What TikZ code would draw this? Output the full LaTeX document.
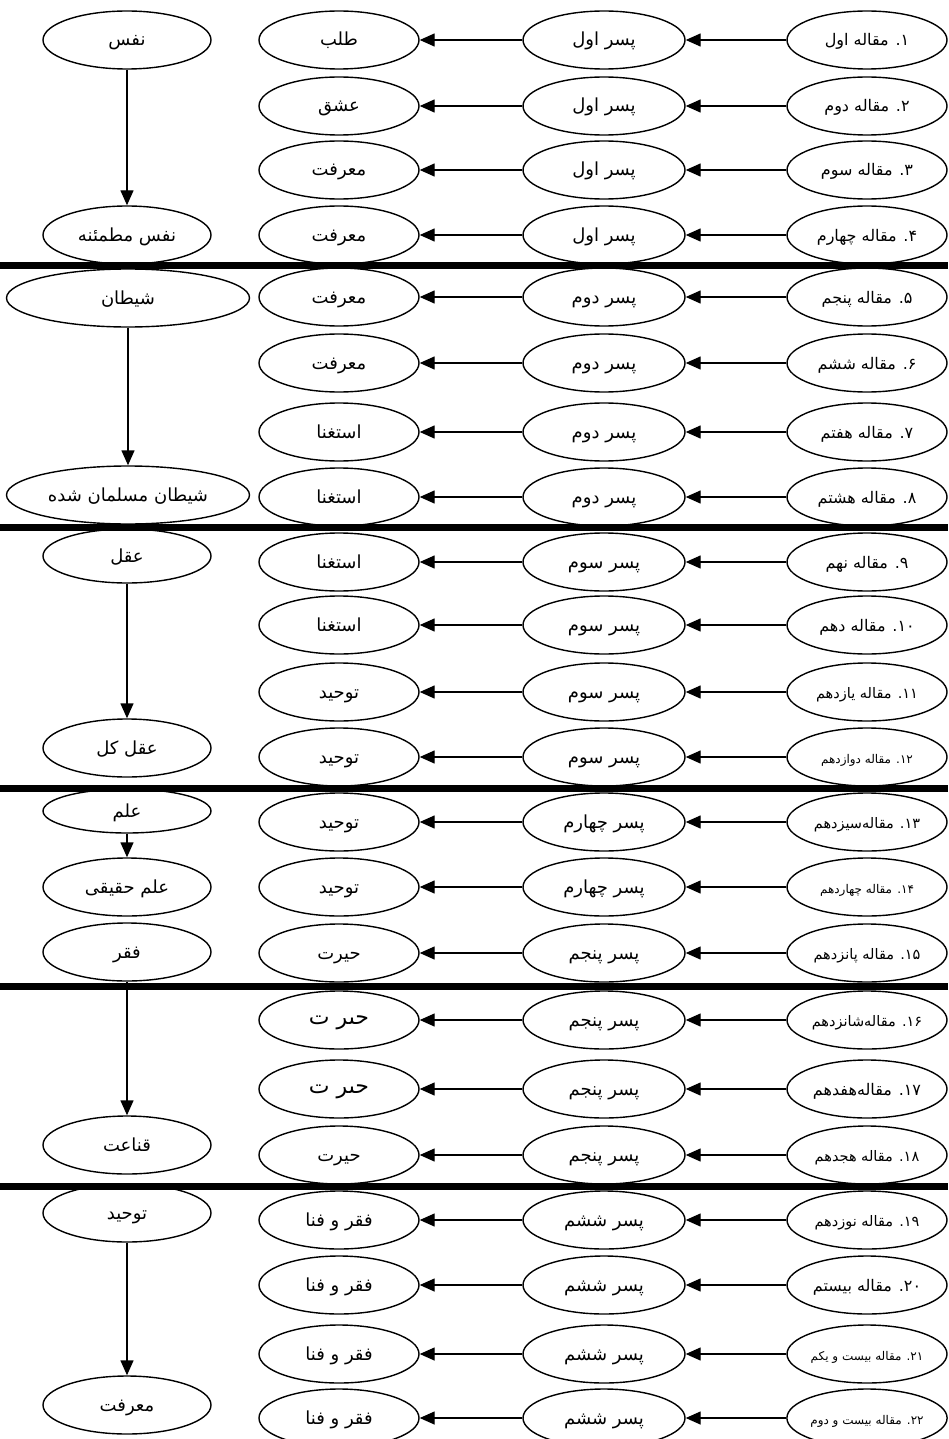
\documentclass[tikz,border=0pt]{standalone}
\usepackage{fontspec}
\usetikzlibrary{shapes.geometric,arrows.meta}
\TeXXeTstate=1
\newfontfamily\arabicfont[Script=Arabic]{DejaVu Sans}
\newcommand\fa[1]{\beginR#1\endR}
\begin{document}
\begin{tikzpicture}[x=1pt,y=-1pt,
  ov/.style={ellipse,draw,line width=1.4pt,fill=white,inner sep=0pt,
    minimum width=162pt,minimum height=58pt,text height=12pt,text depth=0pt,
    font=\arabicfont\fontsize{18}{21}\selectfont},
  lv/.style={ov,minimum width=168pt},
  wide/.style={ov,minimum width=243pt},
  art/.style={ov,minimum width=160pt,font=\arabicfont\fontsize{16}{19}\selectfont},
  mid/.style={font=\arabicfont\fontsize{14.5}{17}\selectfont},
  sm/.style={font=\arabicfont\fontsize{12}{14}\selectfont},
  big/.style={font=\arabicfont\fontsize{22}{25}\selectfont,text height=8pt},
  arr/.style={line width=1.4pt,-{Triangle[length=15pt,width=13pt]}},
  sep/.style={line width=7pt}]
\useasboundingbox (0,0) rectangle (948,1439);
\clip (0,0) rectangle (948,1439);
\fill[white] (0,0) rectangle (948,1439);

% ---------------- left column
\node[lv] (n1) at (127,40) {\fa{نفس}};
\node[lv] (n2) at (127,235) {\fa{نفس مطمئنه}};
\node[wide] (n3) at (128,298) {\fa{شیطان}};
\node[wide] (n4) at (128,495) {\fa{شیطان مسلمان شده}};
\node[lv,minimum height=54pt] (n5) at (127,556) {\fa{عقل}};
\node[lv] (n6) at (127,748) {\fa{عقل کل}};
\node[lv,minimum height=44pt] (n7) at (127,811) {\fa{علم}};
\node[lv] (n8) at (127,887) {\fa{علم حقیقی}};
\node[lv] (n9) at (127,952) {\fa{فقر}};
\node[lv] (n10) at (127,1145) {\fa{قناعت}};
\node[lv] (n11) at (127,1213) {\fa{توحید}};
\node[lv] (n12) at (127,1405) {\fa{معرفت}};

\draw[arr] (n1) -- (n2);
\draw[arr] (n3) -- (n4);
\draw[arr] (n5) -- (n6);
\draw[arr] (n7) -- (n8);
\draw[arr] (n9) -- (n10);
\draw[arr] (n11) -- (n12);

% ---------------- column 2
\node[ov,minimum width=160pt] (b1) at (339,40) {\fa{طلب}};
\node[ov,minimum width=160pt] (b2) at (339,106) {\fa{عشق}};
\node[ov,minimum width=160pt] (b3) at (339,170) {\fa{معرفت}};
\node[ov,minimum width=160pt] (b4) at (339,235) {\fa{معرفت}};
\node[ov,minimum width=160pt] (b5) at (339,297) {\fa{معرفت}};
\node[ov,minimum width=160pt] (b6) at (339,363) {\fa{معرفت}};
\node[ov,minimum width=160pt] (b7) at (339,432) {\fa{استغنا}};
\node[ov,minimum width=160pt] (b8) at (339,497) {\fa{استغنا}};
\node[ov,minimum width=160pt] (b9) at (339,562) {\fa{استغنا}};
\node[ov,minimum width=160pt] (b10) at (339,625) {\fa{استغنا}};
\node[ov,minimum width=160pt] (b11) at (339,692) {\fa{توحید}};
\node[ov,minimum width=160pt] (b12) at (339,757) {\fa{توحید}};
\node[ov,minimum width=160pt] (b13) at (339,822) {\fa{توحید}};
\node[ov,minimum width=160pt] (b14) at (339,887) {\fa{توحید}};
\node[ov,minimum width=160pt] (b15) at (339,953) {\fa{حیرت}};
\node[ov,minimum width=160pt,big] (b16) at (339,1020) {\fa{حىر ت}};
\node[ov,minimum width=160pt,big] (b17) at (339,1089) {\fa{حىر ت}};
\node[ov,minimum width=160pt] (b18) at (339,1155) {\fa{حیرت}};
\node[ov,minimum width=160pt] (b19) at (339,1220) {\fa{فقر و فنا}};
\node[ov,minimum width=160pt] (b20) at (339,1285) {\fa{فقر و فنا}};
\node[ov,minimum width=160pt] (b21) at (339,1354) {\fa{فقر و فنا}};
\node[ov,minimum width=160pt] (b22) at (339,1418) {\fa{فقر و فنا}};

% ---------------- column 3
\node[ov] (c1) at (604,40) {\fa{پسر اول}};
\node[ov] (c2) at (604,106) {\fa{پسر اول}};
\node[ov] (c3) at (604,170) {\fa{پسر اول}};
\node[ov] (c4) at (604,235) {\fa{پسر اول}};
\node[ov] (c5) at (604,297) {\fa{پسر دوم}};
\node[ov] (c6) at (604,363) {\fa{پسر دوم}};
\node[ov] (c7) at (604,432) {\fa{پسر دوم}};
\node[ov] (c8) at (604,497) {\fa{پسر دوم}};
\node[ov] (c9) at (604,562) {\fa{پسر سوم}};
\node[ov] (c10) at (604,625) {\fa{پسر سوم}};
\node[ov] (c11) at (604,692) {\fa{پسر سوم}};
\node[ov] (c12) at (604,757) {\fa{پسر سوم}};
\node[ov] (c13) at (604,822) {\fa{پسر چهارم}};
\node[ov] (c14) at (604,887) {\fa{پسر چهارم}};
\node[ov] (c15) at (604,953) {\fa{پسر پنجم}};
\node[ov] (c16) at (604,1020) {\fa{پسر پنجم}};
\node[ov] (c17) at (604,1089) {\fa{پسر پنجم}};
\node[ov] (c18) at (604,1155) {\fa{پسر پنجم}};
\node[ov] (c19) at (604,1220) {\fa{پسر ششم}};
\node[ov] (c20) at (604,1285) {\fa{پسر ششم}};
\node[ov] (c21) at (604,1354) {\fa{پسر ششم}};
\node[ov] (c22) at (604,1418) {\fa{پسر ششم}};

% ---------------- column 4
\node[art] (d1) at (867,40) {\fa{۱. مقاله اول}};
\node[art] (d2) at (867,106) {\fa{۲. مقاله دوم}};
\node[art] (d3) at (867,170) {\fa{۳. مقاله سوم}};
\node[art] (d4) at (867,235) {\fa{۴. مقاله چهارم}};
\node[art] (d5) at (867,297) {\fa{۵. مقاله پنجم}};
\node[art] (d6) at (867,363) {\fa{۶. مقاله ششم}};
\node[art] (d7) at (867,432) {\fa{۷. مقاله هفتم}};
\node[art] (d8) at (867,497) {\fa{۸. مقاله هشتم}};
\node[art] (d9) at (867,562) {\fa{۹. مقاله نهم}};
\node[art] (d10) at (867,625) {\fa{۱۰. مقاله دهم}};
\node[art,mid] (d11) at (867,692) {\fa{۱۱. مقاله یازدهم}};
\node[art,sm] (d12) at (867,757) {\fa{۱۲. مقاله دوازدهم}};
\node[art,mid] (d13) at (867,822) {\fa{۱۳. مقاله‌سیزدهم}};
\node[art,sm] (d14) at (867,887) {\fa{۱۴. مقاله چهاردهم}};
\node[art,mid] (d15) at (867,953) {\fa{۱۵. مقاله پانزدهم}};
\node[art,mid] (d16) at (867,1020) {\fa{۱۶. مقاله‌شانزدهم}};
\node[art] (d17) at (867,1089) {\fa{۱۷. مقاله‌هفدهم}};
\node[art,mid] (d18) at (867,1155) {\fa{۱۸. مقاله هجدهم}};
\node[art,mid] (d19) at (867,1220) {\fa{۱۹. مقاله نوزدهم}};
\node[art] (d20) at (867,1285) {\fa{۲۰. مقاله بیستم}};
\node[art,sm] (d21) at (867,1354) {\fa{۲۱. مقاله بیست و یکم}};
\node[art,sm] (d22) at (867,1418) {\fa{۲۲. مقاله بیست و دوم}};

% ---------------- connectors
\foreach \i in {1,...,22}{
  \draw[arr] (d\i) -- (c\i);
  \draw[arr] (c\i) -- (b\i);
}

% ---------------- separators
\draw[sep] (0,265) -- (948,265);
\draw[sep] (0,527) -- (948,527);
\draw[sep] (0,788) -- (948,788);
\draw[sep] (0,986) -- (948,986);
\draw[sep] (0,1186) -- (948,1186);
\end{tikzpicture}
\end{document}
